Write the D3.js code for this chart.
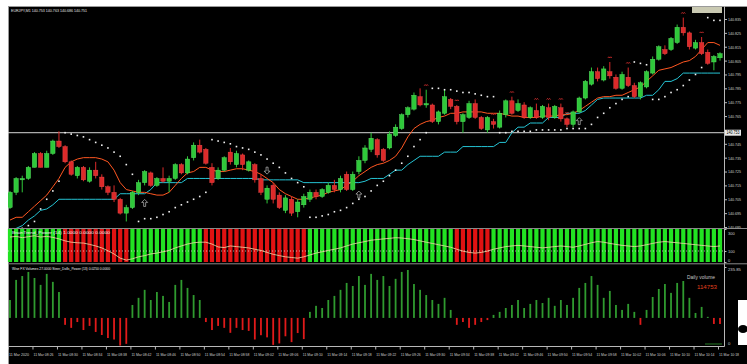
<!DOCTYPE html>
<html><head><meta charset="utf-8">
<script src="https://cdn.jsdelivr.net/npm/d3@7"></script>
<style>html,body{margin:0;padding:0;background:#fff;overflow:hidden}text{font-family:"Liberation Sans",Arial,sans-serif}</style>
</head><body>
<svg id="c" width="747" height="364"></svg>
<script>
const symbolTitle = "EURJPY,M1  140.753 140.763 140.686 140.751";
const osc1Title = "BrainTrend_Power (14)  1.0000  0.0000  0.0000";
const volTitle = "Wise FX Volumes 27.0000   Steer_Dolls_Power (13)  0.0250  0.0000";

const open = [140.699,140.710,140.719,140.720,140.728,140.738,140.728,140.738,140.747,140.743,
140.732,140.722,140.728,140.718,140.726,140.721,140.714,140.710,140.705,140.695,
140.699,140.710,140.717,140.724,140.715,140.720,140.718,140.720,140.730,140.724,
140.735,140.744,140.741,140.728,140.720,140.726,140.739,140.730,140.737,140.726,
140.730,140.720,140.705,140.715,140.708,140.697,140.705,140.696,140.701,140.705,
140.710,140.707,140.710,140.715,140.712,140.723,140.712,140.725,140.733,140.741,
140.748,140.741,140.742,140.751,140.756,140.766,140.770,140.779,140.773,140.773,
140.761,140.767,140.777,140.772,140.761,140.764,140.774,140.764,140.755,140.761,
140.757,140.766,140.776,140.769,140.773,140.764,140.769,140.764,140.771,140.764,
140.771,140.763,140.759,140.768,140.778,140.788,140.797,140.791,140.797,140.793,
140.785,140.793,140.787,140.779,140.786,140.796,140.806,140.813,140.813,140.818,
140.829,140.825,140.814,140.818,140.811,140.804,140.807];
const high = [140.711,140.721,140.722,140.729,140.739,140.739,140.740,140.748,140.754,140.744,
140.733,140.729,140.729,140.728,140.732,140.723,140.715,140.715,140.706,140.701,
140.711,140.719,140.726,140.725,140.721,140.728,140.722,140.731,140.731,140.736,
140.746,140.748,140.742,140.731,140.728,140.736,140.742,140.740,140.738,140.733,
140.731,140.723,140.715,140.717,140.710,140.708,140.707,140.705,140.709,140.712,
140.712,140.713,140.717,140.719,140.722,140.725,140.725,140.736,140.744,140.753,
140.749,140.742,140.754,140.759,140.767,140.772,140.782,140.785,140.784,140.774,
140.769,140.784,140.778,140.773,140.767,140.776,140.777,140.765,140.765,140.763,
140.769,140.777,140.779,140.777,140.775,140.772,140.774,140.773,140.774,140.773,
140.774,140.764,140.769,140.779,140.791,140.800,140.800,140.801,140.804,140.795,
140.797,140.800,140.789,140.790,140.798,140.808,140.816,140.816,140.822,140.831,
140.836,140.826,140.820,140.822,140.813,140.809,140.811];
const low = [140.698,140.708,140.710,140.719,140.728,140.728,140.728,140.737,140.742,140.731,
140.722,140.720,140.718,140.717,140.720,140.712,140.708,140.703,140.694,140.689,
140.698,140.708,140.715,140.714,140.714,140.717,140.710,140.719,140.723,140.723,
140.733,140.738,140.730,140.715,140.719,140.725,140.730,140.728,140.726,140.725,
140.717,140.708,140.702,140.702,140.698,140.695,140.693,140.692,140.699,140.703,
140.705,140.706,140.709,140.710,140.710,140.711,140.711,140.723,140.731,140.739,
140.735,140.732,140.741,140.750,140.755,140.764,140.769,140.772,140.771,140.760,
140.759,140.766,140.770,140.759,140.753,140.763,140.763,140.755,140.753,140.756,
140.756,140.764,140.766,140.768,140.763,140.763,140.763,140.763,140.762,140.763,
140.761,140.757,140.757,140.767,140.777,140.787,140.790,140.790,140.792,140.784,
140.784,140.786,140.778,140.777,140.785,140.795,140.805,140.809,140.812,140.817,
140.823,140.813,140.813,140.809,140.802,140.798,140.805];
const close = [140.710,140.720,140.720,140.728,140.738,140.728,140.738,140.747,140.743,140.732,
140.723,140.728,140.719,140.726,140.722,140.714,140.710,140.705,140.695,140.699,
140.710,140.717,140.725,140.715,140.720,140.718,140.720,140.730,140.724,140.734,
140.744,140.739,140.731,140.717,140.726,140.735,140.732,140.738,140.730,140.732,
140.719,140.710,140.713,140.705,140.699,140.706,140.695,140.703,140.707,140.710,
140.707,140.712,140.715,140.712,140.720,140.712,140.723,140.733,140.742,140.749,
140.737,140.733,140.752,140.757,140.766,140.771,140.780,140.773,140.774,140.761,
140.768,140.779,140.772,140.761,140.766,140.774,140.764,140.756,140.764,140.759,
140.767,140.776,140.767,140.774,140.764,140.771,140.764,140.772,140.764,140.772,
140.763,140.759,140.768,140.778,140.790,140.797,140.792,140.799,140.794,140.785,
140.795,140.787,140.779,140.789,140.797,140.806,140.815,140.810,140.821,140.829,
140.825,140.815,140.818,140.810,140.803,140.808,140.810];

const orangeLine = [140.690,140.692,140.692,140.696,140.700,140.704,140.708,140.714,140.720,140.728,
140.732,140.734,140.735,140.735,140.735,140.734,140.732,140.726,140.717,140.712,
140.711,140.710,140.710,140.709,140.708,140.708,140.710,140.715,140.720,140.724,
140.725,140.728,140.728,140.726,140.725,140.725,140.726,140.727,140.727,140.726,
140.725,140.723,140.720,140.717,140.712,140.709,140.707,140.705,140.705,140.706,
140.707,140.708,140.710,140.711,140.712,140.715,140.718,140.722,140.725,140.728,
140.730,140.731,140.733,140.736,140.742,140.750,140.756,140.759,140.761,140.762,
140.764,140.765,140.767,140.767,140.768,140.768,140.768,140.768,140.767,140.767,
140.767,140.766,140.765,140.765,140.764,140.764,140.764,140.765,140.765,140.765,
140.766,140.766,140.767,140.769,140.772,140.775,140.778,140.779,140.779,140.780,
140.780,140.782,140.784,140.786,140.790,140.794,140.798,140.799,140.800,140.802,
140.804,140.805,140.808,140.813,140.818,140.818,140.816];
const cyanLine = [null,140.684,140.686,140.690,140.693,140.697,140.698,140.701,140.705,140.705,
140.705,140.705,140.705,140.705,140.705,140.705,140.705,140.705,140.709,140.709,
140.709,140.709,140.709,140.712,140.717,140.717,140.717,140.717,140.717,140.720,
140.720,140.720,140.720,140.720,140.720,140.720,140.720,140.720,140.720,140.720,
140.720,140.719,140.719,140.719,140.719,140.719,140.719,140.719,140.717,140.717,
140.717,140.717,140.717,140.717,140.717,140.717,140.717,140.717,140.718,140.720,
140.720,140.720,140.723,140.726,140.726,140.730,140.733,140.736,140.736,140.736,
140.736,140.739,140.739,140.739,140.743,140.743,140.743,140.743,140.743,140.743,
140.746,140.746,140.753,140.757,140.757,140.760,140.760,140.760,140.764,140.764,
140.764,140.767,140.767,140.767,140.769,140.773,140.777,140.778,140.778,140.778,
140.778,140.778,140.778,140.778,140.780,140.780,140.784,140.790,140.790,140.792,
140.796,140.796,140.796,140.796,140.796,140.796,140.796];
const sarDots = [null,null,140.684,140.686,140.689,140.698,140.705,140.711,140.718,140.753,
140.752,140.751,140.750,140.748,140.746,140.744,140.742,140.739,140.736,140.730,
140.723,140.689,140.691,140.691,140.692,140.694,140.696,140.699,140.701,140.703,
140.705,140.707,140.710,140.748,140.747,140.746,140.745,140.743,140.742,140.741,
140.739,140.737,140.734,140.731,140.728,140.724,140.720,140.717,140.714,140.692,
140.692,140.693,140.694,140.696,140.697,140.699,140.702,140.705,140.707,140.711,
140.715,140.718,140.722,140.726,140.731,140.736,140.743,140.748,140.753,140.785,
140.785,140.784,140.784,140.783,140.782,140.782,140.781,140.780,140.779,140.779,
140.753,140.753,140.754,140.754,140.754,140.754,140.755,140.755,140.755,140.755,
140.755,140.756,140.756,140.756,140.756,140.759,140.764,140.767,140.771,140.774,
140.777,140.779,140.804,140.803,140.802,140.777,140.777,140.779,140.782,140.784,
140.787,140.791,140.795,140.800,140.836,140.834,140.834];

const fractalBars = [68,73,79,82,86,88,90,91,98,101,110,113];
const arrowUpBars = [22,57,93];
const arrowUpPrice = [140.702,140.708,140.761];
const arrowDownBars = [42];
const arrowDownPrice = [140.726];
const hLinePrice = 140.753;

const trendState = [1,1,1,1,1,1,1,1,1,-1,-1,-1,-1,-1,-1,-1,-1,-1,-1,-1,
1,1,1,1,1,1,1,1,1,1,1,1,-1,-1,-1,-1,-1,-1,-1,-1,-1,-1,-1,-1,-1,-1,-1,-1,-1,
1,1,1,1,1,1,1,1,1,1,1,1,1,1,1,1,1,1,1,1,1,1,1,1,-1,-1,-1,-1,-1,-1,
1,1,1,1,1,1,1,1,1,1,1,1,1,1,1,1,1,1,1,1,1,1,1,1,1,1,1,1,1,1,1,1,1,1,1,1,1,1];
const oscLine = [227,233,221,230,239,227,233,224,210,
192,180,175,172,160,146,128,102,73,35,17,
29,47,58,73,81,93,105,128,146,163,175,180,
180,163,137,131,146,140,134,128,116,105,87,70,58,47,41,35,47,
64,81,93,105,116,128,146,163,175,186,198,204,210,215,221,218,212,204,192,180,169,157,146,134,
116,99,87,81,87,99,
116,128,140,146,151,146,140,134,128,134,140,146,140,134,146,160,175,186,180,169,160,151,146,140,146,157,169,180,186,180,175,169,163,157,151,146,140,146];
const oscLevel = 100;
const oscTicks = [300,100,0];

const volume = [83,176,194,213,185,153,204,167,120,
-32,-46,-19,-56,-37,-65,-79,-93,-100,-128,-120,
60,93,130,83,120,102,74,153,176,139,106,83,
-19,-56,-37,-46,-69,-46,-56,-60,-100,-80,-90,-125,-118,-85,-112,-70,-98,
28,56,46,83,102,130,162,148,194,153,204,176,194,148,181,213,222,157,130,106,83,65,93,37,
-32,-19,-46,-32,-19,-10,
14,28,46,60,83,46,65,83,69,93,56,83,60,93,139,162,194,153,93,125,60,37,65,28,-32,37,97,134,157,116,162,171,93,23,51,5,-28,-28];
const volMaxLabel = 235.85;
const dailyVolumeLabel = "Daily volume";
const dailyVolumeValue = "114753";

const priceTicks = [140.835,140.825,140.815,140.805,140.795,140.785,140.775,140.765,140.745,140.735,140.725,140.715,140.705,140.695,140.685];
const timeLabels = ["11 Mar 2020","11 Mar 08:26","11 Mar 08:30","11 Mar 08:34","11 Mar 08:38","11 Mar 08:42","11 Mar 08:46","11 Mar 08:50","11 Mar 08:54","11 Mar 08:58",
"11 Mar 09:02","11 Mar 09:06","11 Mar 09:10","11 Mar 09:14","11 Mar 09:18","11 Mar 09:22","11 Mar 09:26","11 Mar 09:30","11 Mar 09:34","11 Mar 09:38",
"11 Mar 09:42","11 Mar 09:46","11 Mar 09:50","11 Mar 09:54","11 Mar 09:58","11 Mar 10:02","11 Mar 10:06","11 Mar 10:10","11 Mar 10:14","11 Mar 10:18"];
const timeLabelEvery = 4;

// ---------------- drawing ----------------
const svg = d3.select('#c');
const AX = 724.5;
const n = open.length;
const x = d3.scaleLinear().domain([0, n-1]).range([10, 720]);
const y = d3.scaleLinear().domain([140.685, 140.835]).range([227, 19]);
const oy = d3.scaleLinear().domain([0, 300]).range([262, 229]);
const vy = d3.scaleLinear().domain([-130, volMaxLabel]).range([346, 267]);
const green = '#2fc83a', red = '#dc2a2a';

svg.append('rect').attr('x',8).attr('y',6).attr('width',739).attr('height',358).attr('fill','#000');
svg.append('line').attr('x1',8).attr('x2',747).attr('y1',6.5).attr('y2',6.5).attr('stroke','#9a9a9a');
svg.append('line').attr('x1',8.5).attr('x2',8.5).attr('y1',6).attr('y2',364).attr('stroke','#9a9a9a');

const defs = svg.append('defs');
defs.append('clipPath').attr('id','mainClip').append('rect').attr('x',8).attr('y',7).attr('width',AX-8).attr('height',221);
const main = svg.append('g').attr('clip-path','url(#mainClip)');

// header
svg.append('text').attr('x',11).attr('y',11.5).attr('font-size',4.2).attr('fill','#e0e0e0')
  .attr('textLength',76).attr('lengthAdjust','spacingAndGlyphs').text(symbolTitle);
svg.append('rect').attr('x',692).attr('y',7).attr('width',30).attr('height',6).attr('fill','#c9c9b2');

// horizontal line
main.append('line').attr('x1',8).attr('x2',AX).attr('y1',y(hLinePrice)).attr('y2',y(hLinePrice)).attr('stroke','#d6d6d6').attr('stroke-width',1);

// indicator lines
const mk = d3.line().defined(d=>d!=null).x((d,i)=>x(i)).y(d=>y(d));
main.append('path').attr('d',mk(cyanLine)).attr('fill','none').attr('stroke','#25c3d3').attr('stroke-width',1);
main.append('path').attr('d',mk(orangeLine)).attr('fill','none').attr('stroke','#ff5722').attr('stroke-width',1);

// candles
const cg = main.append('g');
for(let i=0;i<n;i++){
  const up = close[i] >= open[i];
  const col = up ? green : red;
  cg.append('line').attr('x1',x(i)).attr('x2',x(i)).attr('y1',y(high[i])).attr('y2',y(low[i])).attr('stroke',col).attr('stroke-width',1);
  const t = Math.min(y(open[i]),y(close[i])), b = Math.max(y(open[i]),y(close[i]));
  cg.append('rect').attr('x',x(i)-2.2).attr('y',t).attr('width',4.4).attr('height',Math.max(1,b-t))
    .attr('fill',col).attr('stroke',up?'#5fe86a':'#f05050').attr('stroke-width',0.4);
}

// SAR dots
main.selectAll('.sar').data(sarDots.map((v,i)=>({v,i})).filter(d=>d.v!=null)).join('rect')
  .attr('x',d=>x(d.i)-0.8).attr('y',d=>y(d.v)-0.8).attr('width',1.6).attr('height',1.6).attr('fill','#f2f2f2');

// fractal markers
fractalBars.forEach(i=>{
  const yy = y(high[i]) - 4;
  main.append('path').attr('d',`M${x(i)-2},${yy} l1,-1.2 l1,1.2 l1,-1.2 l1,1.2`).attr('fill','none').attr('stroke','#e03030').attr('stroke-width',0.8);
});

// arrows
function arrow(cx, cy, dir){
  const s = dir;
  const pts = [[0,-4*s],[3,-1*s],[1,-1*s],[1,3*s],[-1,3*s],[-1,-1*s],[-3,-1*s]];
  main.append('path').attr('d','M'+pts.map(p=>(cx+p[0])+','+(cy+p[1])).join('L')+'Z')
    .attr('fill','none').attr('stroke','#bdbdbd').attr('stroke-width',0.7);
}
arrowUpBars.forEach((b,k)=>arrow(x(b), y(arrowUpPrice[k]), 1));
arrowDownBars.forEach((b,k)=>arrow(x(b), y(arrowDownPrice[k]), -1));

// price axis
const pax = svg.append('g').attr('transform',`translate(${AX},0)`)
  .call(d3.axisRight(y).tickValues(priceTicks).tickSize(2.5).tickFormat(d3.format('.3f')));
pax.select('.domain').remove();
pax.selectAll('line').attr('stroke','#bbb');
pax.selectAll('text').attr('fill','#cfcfcf').attr('font-size',4.4).attr('x',3.5)
  .attr('textLength',13).attr('lengthAdjust','spacingAndGlyphs');
svg.append('line').attr('x1',AX).attr('x2',AX).attr('y1',6).attr('y2',346.5).attr('stroke','#b8b8b8');
svg.append('rect').attr('x',AX+0.5).attr('y',y(hLinePrice)-3).attr('width',16).attr('height',6).attr('fill','#e8e8e8');
svg.append('text').attr('x',AX+2).attr('y',y(hLinePrice)+1.7).attr('font-size',4.6).attr('fill','#000')
  .attr('textLength',13).attr('lengthAdjust','spacingAndGlyphs').text(d3.format('.3f')(hLinePrice));

// panel separators
[228.5, 263.8].forEach(v=>svg.append('line').attr('x1',8).attr('x2',747).attr('y1',v).attr('y2',v).attr('stroke','#8a8a8a').attr('stroke-width',1));

// panel 1 bars
const p1 = svg.append('g');
p1.selectAll('rect').data(trendState).join('rect')
  .attr('x',(d,i)=>x(i)-2.1).attr('y',oy(300)).attr('width',4.2).attr('height',oy(0)-oy(300))
  .attr('fill',d=>d>0?'#22e322':'#e01212');
p1.append('line').attr('x1',8).attr('x2',AX).attr('y1',oy(oscLevel)).attr('y2',oy(oscLevel))
  .attr('stroke','#e8e8e8').attr('stroke-width',0.7).attr('stroke-dasharray','1,2');
p1.append('path').attr('d',d3.line().x((d,i)=>x(i)).y(d=>oy(d))(oscLine)).attr('fill','none').attr('stroke','#f3d9a8').attr('stroke-width',0.8);
p1.append('text').attr('x',12).attr('y',234).attr('font-size',3.6).attr('fill','#f0f0f0')
  .attr('textLength',98).attr('lengthAdjust','spacingAndGlyphs').text(osc1Title);
const oax = svg.append('g').attr('transform',`translate(${AX},0)`)
  .call(d3.axisRight(oy).tickValues(oscTicks).tickSize(2).tickFormat(d3.format('d')));
oax.select('.domain').remove();
oax.selectAll('line').attr('stroke','#bbb');
oax.selectAll('text').attr('fill','#cfcfcf').attr('font-size',4).attr('x',3.5)
  .attr('dy',d=>d===300?'1.25em':(d===0?'-0.1em':'0.32em'));

// volume panel
const vg = svg.append('g');
vg.selectAll('rect').data(volume).join('rect')
  .attr('x',(d,i)=>x(i)-0.9).attr('width',1.8)
  .attr('y',d=>d>=0?vy(d):vy(0)).attr('height',d=>Math.abs(vy(d)-vy(0)))
  .attr('fill',d=>d>=0?'#2f9a2f':'#e01a1a');
svg.append('text').attr('x',12).attr('y',270).attr('font-size',3.6).attr('fill','#f0f0f0')
  .attr('textLength',98).attr('lengthAdjust','spacingAndGlyphs').text(volTitle);
svg.append('text').attr('x',687).attr('y',279).attr('font-size',5).attr('fill','#c8c8c8')
  .attr('textLength',28).attr('lengthAdjust','spacingAndGlyphs').text(dailyVolumeLabel);
svg.append('text').attr('x',697).attr('y',289).attr('font-size',5.6).attr('fill','#e0401e')
  .attr('textLength',20).attr('lengthAdjust','spacingAndGlyphs').text(dailyVolumeValue);
svg.append('line').attr('x1',705).attr('x2',722).attr('y1',344).attr('y2',344).attr('stroke','#2f9a2f').attr('stroke-width',0.8);
const vax = svg.append('g').attr('transform',`translate(${AX},0)`)
  .call(d3.axisRight(vy).tickValues([volMaxLabel]).tickSize(2).tickFormat(d3.format('.2f')));
vax.select('.domain').remove();
vax.selectAll('line').attr('stroke','#bbb');
vax.selectAll('text').attr('fill','#cfcfcf').attr('font-size',4.2).attr('x',3.5).attr('dy','0.9em');
svg.append('text').attr('x',AX+3.5).attr('y',345).attr('font-size',4.2).attr('fill','#cfcfcf').text('0');

// time axis
svg.append('line').attr('x1',8).attr('x2',AX).attr('y1',346.5).attr('y2',346.5).attr('stroke','#b8b8b8');
const tg = svg.append('g');
timeLabels.forEach((lab,k)=>{
  const xx = x(k*timeLabelEvery) - 1.5;
  tg.append('line').attr('x1',xx).attr('x2',xx).attr('y1',346.5).attr('y2',349.5).attr('stroke','#b8b8b8');
  tg.append('text').attr('x',xx+0.5).attr('y',356).attr('font-size',4.2).attr('fill','#cfcfcf')
    .attr('textLength',20).attr('lengthAdjust','spacingAndGlyphs').text(lab);
});

// right edge cursor blob
svg.append('rect').attr('x',738).attr('y',300).attr('width',9).attr('height',45).attr('fill','#fff');
svg.append('ellipse').attr('cx',743).attr('cy',329).attr('rx',5).attr('ry',4).attr('fill','#000');
</script>
</body></html>
